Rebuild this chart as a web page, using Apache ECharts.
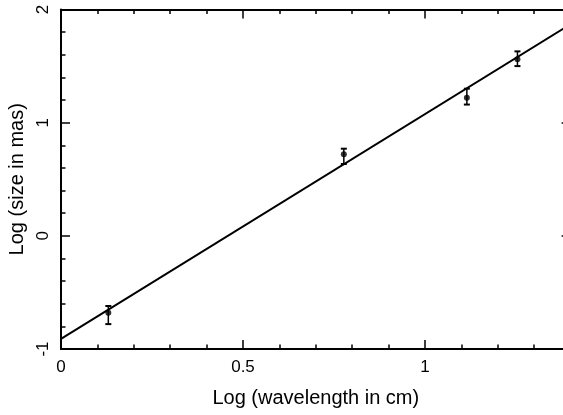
<!DOCTYPE html>
<html>
<head>
<meta charset="utf-8">
<script src="https://cdn.jsdelivr.net/npm/echarts@6/dist/echarts.min.js"></script>
<style>
html,body{margin:0;padding:0;background:#fff;}
#chart{width:563px;height:415px;}
</style>
</head>
<body>
<div id="chart"></div>
<script>
// Data
const xVals = [0.13, 0.777, 1.115, 1.254];
const yVals = [-0.68, 0.72, 1.22, 1.56];
const yLow  = [-0.78, 0.635, 1.16, 1.50];
const yHigh = [-0.62, 0.77, 1.30, 1.63];
const fitX = [0, 1.4];
const fitY = [-0.91, 1.87];
const xTicks = [0, 0.5, 1];
const yTicks = [-1, 0, 1, 2];
const xTitle = 'Log (wavelength in cm)';
const yTitle = 'Log (size in mas)';

const FONT = '"Liberation Sans", Arial, Helvetica, sans-serif';
const chart = echarts.init(document.getElementById('chart'), null, {renderer: 'canvas'});

function fmtX(v) {
  for (const t of xTicks) { if (Math.abs(v - t) < 1e-9) return String(t); }
  return '';
}
function fmtY(v) {
  for (const t of yTicks) { if (Math.abs(v - t) < 1e-9) return String(t); }
  return '';
}

const lineBlack = {color: '#000', width: 2};
const tickStyle = {color: '#000', width: 1.5};

function xAxisCfg(pos, withLabels) {
  return {
    type: 'value', min: 0, max: 1.4, interval: 0.5, position: pos,
    axisLine: {show: true, onZero: false, lineStyle: lineBlack},
    axisTick: {show: true, inside: true, length: 9, lineStyle: tickStyle},
    minorTick: {show: true, splitNumber: 5, length: 4.5, lineStyle: tickStyle},
    splitLine: {show: false}, minorSplitLine: {show: false},
    axisLabel: {show: withLabels, margin: 10, fontSize: 17, color: '#000', fontFamily: FONT, formatter: fmtX},
    name: withLabels ? xTitle : '', nameLocation: 'middle', nameGap: 39,
    nameTextStyle: {fontSize: 20, color: '#000', fontFamily: FONT}
  };
}
function yAxisCfg(pos, withLabels) {
  return {
    type: 'value', min: -1, max: 2, interval: 1, position: pos,
    axisLine: {show: true, onZero: false, lineStyle: lineBlack},
    axisTick: {show: true, inside: true, length: 9, lineStyle: tickStyle},
    minorTick: {show: true, splitNumber: 5, length: 4.5, lineStyle: tickStyle},
    splitLine: {show: false}, minorSplitLine: {show: false},
    axisLabel: {show: withLabels, rotate: 90, margin: 9, fontSize: 17, color: '#000', fontFamily: FONT, formatter: fmtY},
    name: withLabels ? yTitle : '', nameLocation: 'middle', nameGap: 34,
    nameTextStyle: {fontSize: 20, color: '#000', fontFamily: FONT}
  };
}

const points = xVals.map((x, i) => [x, yVals[i]]);
const errData = xVals.map((x, i) => [x, yLow[i], yHigh[i]]);
const fitData = fitX.map((x, i) => [x, fitY[i]]);

const option = {
  backgroundColor: '#fff',
  animation: false,
  grid: {left: 61, top: 9.5, width: 509.6, height: 339.5, containLabel: false, outerBoundsMode: 'none'},
  xAxis: [xAxisCfg('bottom', true), xAxisCfg('top', false)],
  yAxis: [yAxisCfg('left', true), yAxisCfg('right', false)],
  series: [
    {
      type: 'line', data: fitData, xAxisIndex: 0, yAxisIndex: 0,
      showSymbol: false, symbol: 'none', clip: true,
      lineStyle: {color: '#000', width: 2}, z: 2
    },
    {
      type: 'custom', xAxisIndex: 0, yAxisIndex: 0, data: errData, z: 3,
      renderItem: function (params, api) {
        const x = api.value(0);
        const lo = api.coord([x, api.value(1)]);
        const hi = api.coord([x, api.value(2)]);
        const hw = 3;
        const st = {stroke: '#000', lineWidth: 1.5};
        const cap = {stroke: '#000', lineWidth: 2};
        return {
          type: 'group',
          children: [
            {type: 'line', shape: {x1: lo[0], y1: lo[1], x2: hi[0], y2: hi[1]}, style: st},
            {type: 'line', shape: {x1: lo[0] - hw, y1: lo[1], x2: lo[0] + hw, y2: lo[1]}, style: cap},
            {type: 'line', shape: {x1: hi[0] - hw, y1: hi[1], x2: hi[0] + hw, y2: hi[1]}, style: cap}
          ]
        };
      }
    },
    {
      type: 'scatter', data: points, xAxisIndex: 0, yAxisIndex: 0,
      symbol: 'circle', symbolSize: 6, itemStyle: {color: '#000'}, z: 4
    }
  ]
};
chart.setOption(option);
</script>
</body>
</html>
